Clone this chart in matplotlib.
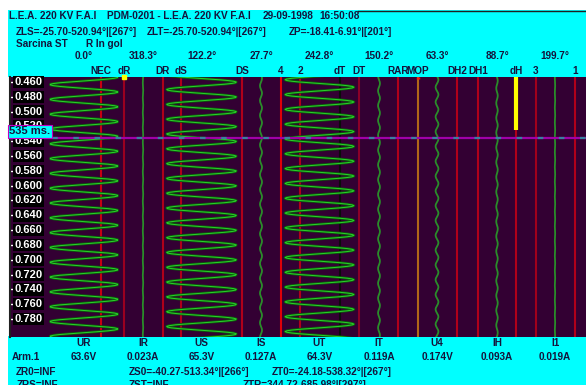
import numpy as np
import matplotlib.pyplot as plt
from matplotlib.patches import Rectangle

plt.rcParams['font.family'] = ['Liberation Sans', 'DejaVu Sans']
plt.rcParams['font.weight'] = 'bold'

# analog channels: rms value, unit and phase angle
channels = ['UR', 'IR', 'US', 'IS', 'UT', 'IT', 'U4', 'IH', 'I1']
values = [63.6, 0.023, 65.3, 0.127, 64.3, 0.119, 0.174, 0.093, 0.019]
units = ['V', 'A', 'V', 'A', 'V', 'A', 'V', 'A', 'A']
phases = [0.0, 318.3, 122.2, 27.7, 242.8, 150.2, 63.3, 88.7, 199.7]

# binary channels
digital = ['NEC', 'dR', 'DR', 'dS', 'DS', '4', '2', 'dT', 'DT',
           'RAR', 'MOP', 'DH2', 'DH1', 'dH', '3', '1']
dH_end = 0.525          # dH active until this time (s)
cursor_ms = 535

time_ticks = [0.460, 0.480, 0.500, 0.520, 0.540, 0.560, 0.580, 0.600, 0.620,
              0.640, 0.660, 0.680, 0.700, 0.720, 0.740, 0.760, 0.780]

header1 = [('L.E.A. 220 KV F.A.I', 9), ('PDM-0201 - L.E.A. 220 KV F.A.I', 107),
           ('29-09-1998', 263), ('16:50:08', 319)]
header2 = [('ZLS=-25.70-520.94°|[267°]', 16), ('ZLT=-25.70-520.94°|[267°]', 147),
           ('ZP=-18.41-6.91°|[201°]', 289)]
header3 = [('Sarcina ST', 16), ('R In gol', 86)]
footer1 = [('ZR0=INF', 16), ('ZS0=-40.27-513.34°|[266°]', 129),
           ('ZT0=-24.18-538.32°|[267°]', 272)]
footer2 = [('ZRS=INF', 17), ('ZST=INF', 129), ('ZTR=344.72-685.98°|[297°]', 243)]

# screen layout (pixels)
W, H = 586, 385
chan_x = [84, 143, 201.5, 261, 319.5, 379, 437, 497, 555]
gain = [0.535, 8, 0.535, 8, 0.535, 8, 8, 8, 8]
dig_x = [101, 124, 163, 181, 242, 281, 300, 340, 359,
         398, 418, 457, 478, 516, 536, 575]
dig_col = ['#c80012', '#9a0020', '#b0001a', '#b0001a', '#b0001a', '#e00008',
           '#b0001a', '#0c0c0c', '#8c0028', '#b0001a', '#b06818', '#b0001a',
           '#b0001a', '#b0001a', '#a0001c', '#b0001a']

ink = '#14143c'
cyan = '#00ffff'
purple = '#330033'

fig = plt.figure(figsize=(W / 100, H / 100), dpi=100)
fig.patch.set_facecolor('white')

bg = fig.add_axes([0, 0, 1, 1])
bg.set_xlim(0, W)
bg.set_ylim(H, 0)
bg.axis('off')
bg.add_patch(Rectangle((8, 10), W - 8, 67, fc=cyan, ec='none'))
bg.add_patch(Rectangle((8, 336), W - 8, H - 336, fc=cyan, ec='none'))
bg.plot([358, W], [10.5, 10.5], color='#202020', lw=1)

fs = 7.2
for row, y in ((header1, 16), (header2, 32), (header3, 44)):
    for s, x in row:
        bg.text(x, y, s, fontsize=fs, color=ink, ha='left', va='center')
for ph, x in zip(phases, chan_x):
    bg.text(x, 56, f'{ph:.1f}°', fontsize=fs, color=ink, ha='center', va='center')
for name, x in zip(digital, dig_x):
    bg.text(x, 70.5, name, fontsize=fs, color=ink, ha='center', va='center')

for name, v, u, x in zip(channels, values, units, chan_x):
    bg.text(x, 343, name, fontsize=fs, color=ink, ha='center', va='center')
    txt = f'{v:.1f}{u}' if v >= 1 else f'{v:.3f}{u}'
    bg.text(x, 356.5, txt, fontsize=fs, color=ink, ha='center', va='center')
bg.text(12, 356.5, 'Arm.1', fontsize=fs, color=ink, ha='left', va='center')
for row, y in ((footer1, 372), (footer2, 385.5)):
    for s, x in row:
        bg.text(x, y, s, fontsize=fs, color=ink, ha='left', va='center')

# recorder area: x in screen pixels, y in seconds
x0, x1, ytop, ybot = 10, 586, 76.5, 336.5
px = 0.02 / 14.81
ax = fig.add_axes([x0 / W, 1 - ybot / H, (x1 - x0) / W, (ybot - ytop) / H])
ax.set_facecolor(purple)
ax.set_xlim(x0, x1)
t_top = 0.460 - (82 - ytop) * px
t_bot = 0.460 + (ybot - 82) * px
ax.set_ylim(t_bot, t_top)

for x, c in zip(dig_x, dig_col):
    ax.axvline(x, color=c, lw=1.5, zorder=2)
ax.plot([516, 516], [t_top, dH_end], color='#ffff00', lw=3, zorder=3,
        solid_capstyle='butt')
ax.plot([418, 418], [t_top, t_top + 0.004], color='#ff1010', lw=2.5, zorder=3,
        solid_capstyle='butt')
ax.plot([124], [t_top + 0.0005], 's', color='#ffff00', ms=2.5, zorder=3,
        clip_on=False)

# 1 kHz samples
t = np.arange(0.440, 0.820, 0.001)
for v, ph, cx, g in zip(values, phases, chan_x, gain):
    xs = cx + v * g * np.cos(2 * np.pi * 50 * t - np.deg2rad(243 + ph))
    if v > 10:
        ax.plot(xs, t, color='#0d5a0d', lw=1.9, zorder=4)
        ax.plot(xs, t, color='#2ad22a', lw=0.7, zorder=4)
    else:
        ax.plot(xs, t, color='#2a8c2a', lw=1.3, zorder=4)

t_cur = cursor_ms / 1000 + 0.0002
ax.axhline(t_cur, color='#a000a8', lw=1.6, zorder=5)
ax.axhline(t_cur, color='#3a80a0', lw=1.6, dashes=(2.5, 7), zorder=5)

for tt in time_ticks:
    ax.text(14.5, tt, f'{tt:.3f}', fontsize=8, color='white', ha='left',
            va='center', zorder=6,
            bbox=dict(fc='black', ec='none', pad=0.9))
ax.annotate(f'{cursor_ms} ms.', xy=(x0, t_cur), xytext=(-0.5, 1.0),
            textcoords='offset points', ha='left', va='bottom', fontsize=8,
            color=ink, zorder=7, annotation_clip=False,
            bbox=dict(fc=cyan, ec='#c000c0', lw=0.8, pad=1.3))

ax.set_xticks([])
ax.set_yticks(time_ticks)
ax.tick_params(axis='y', direction='in', length=3, width=1, color='white',
               labelleft=False)
for side in ('top', 'right', 'bottom'):
    ax.spines[side].set_visible(False)
ax.spines['left'].set_color('#202020')
ax.spines['left'].set_linewidth(1.5)

fig.savefig('out.png', dpi=100, facecolor='white')
